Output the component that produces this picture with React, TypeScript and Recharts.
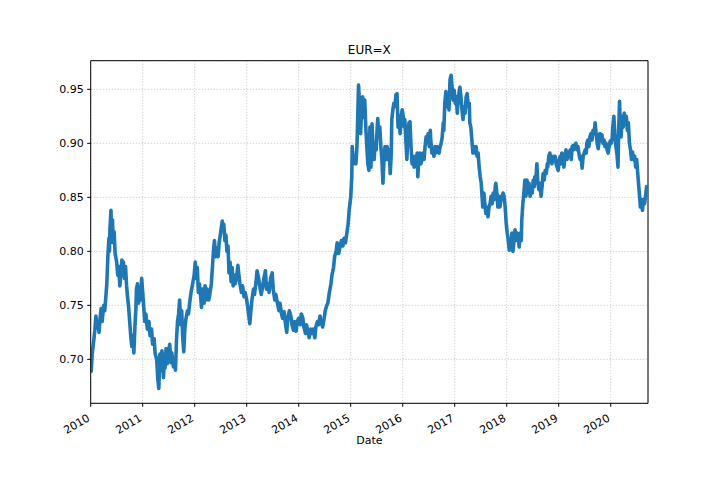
import {
  LineChart,
  Line,
  XAxis,
  YAxis,
  CartesianGrid,
  ReferenceLine,
} from "recharts";

// EUR=X daily close as [decimal year, rate]
const eur2010 = [
  [2010.0, 0.7], [2010.01, 0.689], [2010.03, 0.706], [2010.06, 0.718], [2010.08, 0.727],
  [2010.1, 0.74], [2010.12, 0.73], [2010.14, 0.733], [2010.16, 0.725], [2010.18, 0.738],
  [2010.2, 0.747], [2010.22, 0.735], [2010.25, 0.75], [2010.27, 0.745], [2010.29, 0.757],
  [2010.31, 0.77], [2010.33, 0.795], [2010.35, 0.812], [2010.36, 0.8], [2010.37, 0.821],
  [2010.39, 0.838], [2010.4, 0.818], [2010.42, 0.829], [2010.43, 0.808], [2010.45, 0.818],
  [2010.47, 0.798], [2010.5, 0.79], [2010.52, 0.778], [2010.54, 0.786], [2010.56, 0.768],
  [2010.58, 0.778], [2010.6, 0.792], [2010.62, 0.784], [2010.63, 0.79], [2010.65, 0.775],
  [2010.67, 0.786], [2010.69, 0.768], [2010.71, 0.757], [2010.73, 0.748], [2010.75, 0.735],
  [2010.77, 0.722], [2010.79, 0.712], [2010.81, 0.722], [2010.83, 0.706], [2010.85, 0.73],
  [2010.87, 0.748], [2010.88, 0.765], [2010.9, 0.77], [2010.92, 0.752], [2010.94, 0.762],
  [2010.96, 0.755], [2010.98, 0.775],
];

const eur2011 = [
  [2011.0, 0.762], [2011.02, 0.748], [2011.04, 0.735], [2011.06, 0.742], [2011.09, 0.728],
  [2011.12, 0.735], [2011.14, 0.722], [2011.17, 0.728], [2011.19, 0.714], [2011.22, 0.719],
  [2011.24, 0.705], [2011.27, 0.7], [2011.29, 0.682], [2011.31, 0.673], [2011.33, 0.705],
  [2011.35, 0.69], [2011.37, 0.708], [2011.4, 0.683], [2011.42, 0.705], [2011.43, 0.692],
  [2011.45, 0.71], [2011.47, 0.696], [2011.5, 0.708], [2011.52, 0.714], [2011.54, 0.697],
  [2011.56, 0.706], [2011.59, 0.693], [2011.62, 0.7], [2011.63, 0.69], [2011.65, 0.718],
  [2011.67, 0.735], [2011.69, 0.742], [2011.71, 0.755], [2011.73, 0.732], [2011.75, 0.745],
  [2011.77, 0.72], [2011.79, 0.707], [2011.81, 0.728], [2011.83, 0.737], [2011.86, 0.745],
  [2011.88, 0.742], [2011.91, 0.755], [2011.93, 0.762], [2011.96, 0.77], [2011.99, 0.778],
];

const eur2012 = [
  [2012.01, 0.79], [2012.03, 0.775], [2012.05, 0.785], [2012.07, 0.762], [2012.09, 0.77],
  [2012.12, 0.755], [2012.13, 0.748], [2012.15, 0.765], [2012.18, 0.752], [2012.2, 0.768],
  [2012.22, 0.755], [2012.24, 0.765], [2012.27, 0.755], [2012.29, 0.76], [2012.32, 0.77],
  [2012.34, 0.785], [2012.36, 0.8], [2012.38, 0.81], [2012.4, 0.795], [2012.42, 0.803],
  [2012.45, 0.795], [2012.47, 0.808], [2012.5, 0.818], [2012.53, 0.828], [2012.54, 0.82],
  [2012.56, 0.825], [2012.58, 0.81], [2012.6, 0.815], [2012.62, 0.8], [2012.64, 0.805],
  [2012.66, 0.78], [2012.68, 0.79], [2012.7, 0.772], [2012.72, 0.785], [2012.74, 0.768],
  [2012.76, 0.778], [2012.78, 0.77], [2012.81, 0.778], [2012.83, 0.787], [2012.85, 0.778],
  [2012.87, 0.77], [2012.9, 0.762], [2012.92, 0.768], [2012.95, 0.758], [2012.97, 0.762],
];

const eur2013 = [
  [2013.0, 0.755], [2013.02, 0.748], [2013.04, 0.74], [2013.06, 0.733], [2013.08, 0.745],
  [2013.1, 0.755], [2013.13, 0.765], [2013.15, 0.76], [2013.18, 0.772], [2013.2, 0.782],
  [2013.23, 0.775], [2013.26, 0.765], [2013.28, 0.76], [2013.31, 0.768], [2013.33, 0.775],
  [2013.36, 0.782], [2013.38, 0.765], [2013.41, 0.77], [2013.43, 0.762], [2013.46, 0.775],
  [2013.49, 0.78], [2013.51, 0.765], [2013.54, 0.755], [2013.56, 0.76], [2013.59, 0.752],
  [2013.62, 0.745], [2013.64, 0.752], [2013.67, 0.742], [2013.69, 0.738], [2013.72, 0.744],
  [2013.74, 0.735], [2013.77, 0.725], [2013.79, 0.738], [2013.82, 0.745], [2013.85, 0.74],
  [2013.87, 0.732], [2013.9, 0.727], [2013.92, 0.735], [2013.95, 0.726], [2013.97, 0.735],
];

const eur2014 = [
  [2014.0, 0.738], [2014.03, 0.732], [2014.05, 0.742], [2014.08, 0.738], [2014.1, 0.73],
  [2014.13, 0.724], [2014.15, 0.732], [2014.18, 0.725], [2014.2, 0.72], [2014.23, 0.728],
  [2014.26, 0.724], [2014.28, 0.728], [2014.31, 0.72], [2014.33, 0.73], [2014.36, 0.735],
  [2014.38, 0.732], [2014.41, 0.74], [2014.43, 0.735], [2014.46, 0.73], [2014.49, 0.738],
  [2014.51, 0.745], [2014.54, 0.75], [2014.56, 0.752], [2014.59, 0.762], [2014.62, 0.77],
  [2014.64, 0.778], [2014.67, 0.785], [2014.69, 0.795], [2014.72, 0.8], [2014.74, 0.808],
  [2014.77, 0.798], [2014.79, 0.803], [2014.82, 0.81], [2014.85, 0.805], [2014.87, 0.812],
  [2014.9, 0.808], [2014.92, 0.815], [2014.95, 0.825], [2014.97, 0.838],
];

const eur2015 = [
  [2015.0, 0.85], [2015.02, 0.869], [2015.03, 0.897], [2015.05, 0.881], [2015.07, 0.888],
  [2015.1, 0.881], [2015.12, 0.897], [2015.13, 0.915], [2015.15, 0.954], [2015.17, 0.937],
  [2015.19, 0.909], [2015.21, 0.931], [2015.23, 0.943], [2015.25, 0.924], [2015.27, 0.94],
  [2015.29, 0.915], [2015.31, 0.897], [2015.33, 0.881], [2015.35, 0.875], [2015.37, 0.915],
  [2015.39, 0.878], [2015.41, 0.918], [2015.43, 0.897], [2015.45, 0.885], [2015.47, 0.9],
  [2015.49, 0.894], [2015.51, 0.915], [2015.52, 0.923], [2015.54, 0.906], [2015.56, 0.915],
  [2015.58, 0.897], [2015.6, 0.885], [2015.62, 0.863], [2015.64, 0.885], [2015.66, 0.897],
  [2015.68, 0.885], [2015.7, 0.897], [2015.72, 0.885], [2015.74, 0.894], [2015.76, 0.872],
  [2015.78, 0.891], [2015.79, 0.922], [2015.81, 0.931], [2015.83, 0.937], [2015.85, 0.934],
  [2015.87, 0.945], [2015.89, 0.946], [2015.91, 0.915], [2015.93, 0.922], [2015.95, 0.909],
  [2015.97, 0.925], [2015.99, 0.931],
];

const eur2016 = [
  [2016.01, 0.925], [2016.03, 0.915], [2016.04, 0.922], [2016.06, 0.903], [2016.08, 0.885],
  [2016.1, 0.909], [2016.12, 0.919], [2016.14, 0.92], [2016.16, 0.897], [2016.18, 0.881],
  [2016.2, 0.888], [2016.22, 0.878], [2016.24, 0.888], [2016.26, 0.885], [2016.28, 0.891],
  [2016.29, 0.869], [2016.31, 0.885], [2016.33, 0.891], [2016.35, 0.881], [2016.37, 0.885],
  [2016.39, 0.891], [2016.41, 0.885], [2016.43, 0.897], [2016.45, 0.906], [2016.47, 0.903],
  [2016.49, 0.909], [2016.51, 0.897], [2016.53, 0.912], [2016.54, 0.903], [2016.56, 0.891],
  [2016.58, 0.894], [2016.6, 0.888], [2016.62, 0.897], [2016.64, 0.891], [2016.66, 0.897],
  [2016.68, 0.894], [2016.7, 0.891], [2016.72, 0.897], [2016.74, 0.9], [2016.76, 0.906],
  [2016.78, 0.919], [2016.79, 0.912], [2016.81, 0.937], [2016.83, 0.948], [2016.85, 0.934],
  [2016.87, 0.943], [2016.89, 0.931], [2016.91, 0.959], [2016.93, 0.963], [2016.95, 0.952],
  [2016.97, 0.94], [2016.99, 0.949],
];

const eur2017 = [
  [2017.01, 0.937], [2017.03, 0.943], [2017.05, 0.928], [2017.06, 0.937], [2017.08, 0.946],
  [2017.1, 0.952], [2017.12, 0.943], [2017.14, 0.931], [2017.16, 0.922], [2017.18, 0.934],
  [2017.2, 0.928], [2017.22, 0.943], [2017.24, 0.946], [2017.26, 0.934], [2017.28, 0.937],
  [2017.29, 0.919], [2017.31, 0.915], [2017.33, 0.903], [2017.35, 0.891], [2017.37, 0.897],
  [2017.39, 0.891], [2017.41, 0.897], [2017.43, 0.888], [2017.45, 0.891], [2017.47, 0.878],
  [2017.49, 0.869], [2017.51, 0.863], [2017.53, 0.848], [2017.54, 0.841], [2017.56, 0.854],
  [2017.58, 0.844], [2017.6, 0.835], [2017.62, 0.841], [2017.64, 0.832], [2017.66, 0.841],
  [2017.68, 0.844], [2017.7, 0.851], [2017.72, 0.844], [2017.74, 0.854], [2017.76, 0.848],
  [2017.78, 0.86], [2017.79, 0.863], [2017.81, 0.854], [2017.83, 0.841], [2017.85, 0.851],
  [2017.87, 0.841], [2017.89, 0.848], [2017.91, 0.851], [2017.93, 0.854], [2017.95, 0.851],
  [2017.97, 0.841], [2017.99, 0.826],
];

const eur2018 = [
  [2018.01, 0.817], [2018.03, 0.81], [2018.05, 0.801], [2018.06, 0.81], [2018.08, 0.804],
  [2018.1, 0.817], [2018.12, 0.8], [2018.14, 0.81], [2018.16, 0.82], [2018.18, 0.81],
  [2018.2, 0.817], [2018.22, 0.814], [2018.24, 0.804], [2018.26, 0.817], [2018.28, 0.81],
  [2018.29, 0.829], [2018.31, 0.844], [2018.33, 0.854], [2018.35, 0.866], [2018.37, 0.851],
  [2018.39, 0.866], [2018.41, 0.854], [2018.43, 0.863], [2018.45, 0.851], [2018.47, 0.857],
  [2018.49, 0.854], [2018.51, 0.866], [2018.53, 0.86], [2018.54, 0.869], [2018.56, 0.866],
  [2018.58, 0.881], [2018.6, 0.863], [2018.62, 0.857], [2018.64, 0.863], [2018.66, 0.851],
  [2018.68, 0.86], [2018.7, 0.872], [2018.72, 0.866], [2018.74, 0.875], [2018.76, 0.872],
  [2018.78, 0.881], [2018.79, 0.878], [2018.81, 0.888], [2018.83, 0.891], [2018.85, 0.885],
  [2018.87, 0.881], [2018.89, 0.888], [2018.91, 0.885], [2018.93, 0.888], [2018.95, 0.881],
  [2018.97, 0.878], [2018.99, 0.875],
];

const eur2019 = [
  [2019.01, 0.885], [2019.03, 0.888], [2019.04, 0.881], [2019.06, 0.891], [2019.08, 0.885],
  [2019.1, 0.878], [2019.12, 0.888], [2019.14, 0.894], [2019.16, 0.885], [2019.18, 0.891],
  [2019.2, 0.888], [2019.22, 0.894], [2019.24, 0.885], [2019.26, 0.897], [2019.28, 0.898],
  [2019.29, 0.894], [2019.31, 0.897], [2019.33, 0.9], [2019.35, 0.894], [2019.37, 0.897],
  [2019.39, 0.89], [2019.41, 0.885], [2019.43, 0.888], [2019.45, 0.877], [2019.47, 0.888],
  [2019.49, 0.891], [2019.51, 0.894], [2019.53, 0.891], [2019.54, 0.9], [2019.56, 0.903],
  [2019.58, 0.897], [2019.6, 0.906], [2019.62, 0.909], [2019.64, 0.903], [2019.66, 0.912],
  [2019.68, 0.909], [2019.7, 0.919], [2019.72, 0.909], [2019.74, 0.9], [2019.76, 0.895],
  [2019.78, 0.903], [2019.79, 0.909], [2019.81, 0.903], [2019.83, 0.908], [2019.85, 0.9],
  [2019.87, 0.903], [2019.89, 0.897], [2019.91, 0.9], [2019.93, 0.894], [2019.95, 0.891],
  [2019.97, 0.897], [2019.99, 0.902],
];

const eur2020 = [
  [2020.01, 0.9], [2020.03, 0.905], [2020.04, 0.915], [2020.06, 0.925], [2020.08, 0.909],
  [2020.1, 0.897], [2020.12, 0.89], [2020.14, 0.878], [2020.155, 0.915], [2020.17, 0.939],
  [2020.18, 0.922], [2020.2, 0.906], [2020.22, 0.925], [2020.24, 0.915], [2020.26, 0.928],
  [2020.28, 0.919], [2020.3, 0.925], [2020.32, 0.912], [2020.34, 0.919], [2020.36, 0.9],
  [2020.38, 0.894], [2020.4, 0.885], [2020.42, 0.892], [2020.44, 0.885], [2020.46, 0.888],
  [2020.48, 0.878], [2020.5, 0.885], [2020.52, 0.872], [2020.54, 0.86], [2020.56, 0.848],
  [2020.57, 0.841], [2020.59, 0.848], [2020.61, 0.838], [2020.63, 0.848], [2020.65, 0.844],
  [2020.67, 0.851], [2020.69, 0.86], [2020.71, 0.855],
];

const yearTicks = [2010, 2011, 2012, 2013, 2014, 2015, 2016, 2017, 2018, 2019, 2020];
const rateTicks = [0.7, 0.75, 0.8, 0.85, 0.9, 0.95];

const X_MIN = 2010;
const X_MAX = 2020.717;
const Y_MIN = 0.6593;
const Y_MAX = 0.9765;

const data = [
  ...eur2010, ...eur2011, ...eur2012, ...eur2013, ...eur2014, ...eur2015,
  ...eur2016, ...eur2017, ...eur2018, ...eur2019, ...eur2020,
].map(([year, close]) => ({ year, close }));

const FONT = "DejaVu Sans";

const YearTick = (props: any) => {
  const { x, y, payload } = props;
  const ty = y + 10;
  return (
    <text
      x={x}
      y={ty}
      transform={`rotate(-30, ${x}, ${ty})`}
      textAnchor="end"
      fontSize={11}
      fontFamily={FONT}
      fill="#000"
    >
      {payload.value}
    </text>
  );
};

export default function App() {
  return (
    <div style={{ position: "absolute", left: 0, top: 0, width: 720, height: 504, background: "#fff" }}>
      <LineChart
        width={720}
        height={504}
        data={data}
        margin={{ top: 60.7, right: 72, bottom: 0, left: 0 }}
      >
        <CartesianGrid stroke="#b0b0b0" strokeWidth={0.8} strokeDasharray="1 2" />
        <XAxis
          dataKey="year"
          type="number"
          domain={[X_MIN, X_MAX]}
          ticks={yearTicks}
          allowDataOverflow
          height={100.7}
          stroke="#000"
          tickSize={3.5}
          tickMargin={3.5}
          tick={<YearTick />}
        />
        <YAxis
          type="number"
          domain={[Y_MIN, Y_MAX]}
          ticks={rateTicks}
          allowDataOverflow
          width={90.7}
          stroke="#000"
          tickSize={3.5}
          tickMargin={3.5}
          tick={{ fontSize: 11, fontFamily: FONT, fill: "#000" }}
          tickFormatter={(v: number) => v.toFixed(2)}
        />
        <ReferenceLine y={Y_MAX} stroke="#000" strokeWidth={1} ifOverflow="visible" />
        <ReferenceLine x={X_MAX} stroke="#000" strokeWidth={1} ifOverflow="visible" />
        <Line
          type="linear"
          dataKey="close"
          stroke="#1f77b4"
          strokeWidth={3.6}
          strokeLinejoin="round"
          dot={false}
          isAnimationActive={false}
        />
      </LineChart>
      <div
        style={{
          position: "absolute",
          left: 90.7,
          width: 557.3,
          top: 43,
          textAlign: "center",
          fontFamily: FONT,
          fontSize: 12,
          lineHeight: "14px",
        }}
      >
        EUR=X
      </div>
      <div
        style={{
          position: "absolute",
          left: 90.7,
          width: 557.3,
          top: 434,
          textAlign: "center",
          fontFamily: FONT,
          fontSize: 11,
          lineHeight: "14px",
        }}
      >
        Date
      </div>
    </div>
  );
}
